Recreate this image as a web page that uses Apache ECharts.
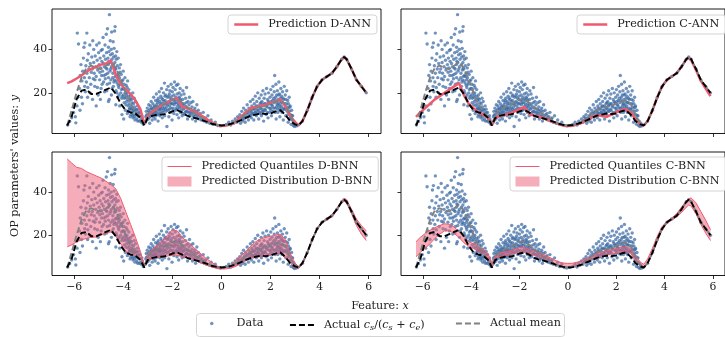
<!DOCTYPE html>
<html><head><meta charset="utf-8">
<script src="https://cdn.jsdelivr.net/npm/echarts@6/dist/echarts.min.js"></script>
<style>html,body{margin:0;padding:0;background:#fff}#c{width:725px;height:337px}</style>
</head><body><div id="c"></div>
<script>
// ---------- data ----------
const X = [-6.28,-6.1,-5.9,-5.7,-5.5,-5.3,-5.1,-4.9,-4.7,-4.5,-4.3,-4.1,-3.9,-3.7,-3.5,-3.3,-3.14,
  -3.0,-2.8,-2.6,-2.4,-2.2,-2.0,-1.8,-1.6,-1.4,-1.2,-1.0,-0.8,-0.6,-0.4,-0.2,0,
  0.2,0.4,0.6,0.8,1.0,1.2,1.4,1.6,1.8,2.0,2.2,2.4,2.6,2.8,3.0,3.14,
  3.3,3.5,3.7,3.9,4.1,4.3,4.5,4.7,4.9,5.0,5.1,5.3,5.5,5.7,5.9];
const actualRatio = [5,9,17,21,21.5,19.5,19.5,20.5,21.5,22.5,19.5,15,12,11,10.5,8.5,5,
  8.5,9.5,10,10,10.5,11.5,12,11,9.5,8.7,8.2,7.5,6.8,5.8,5.3,5,
  5.2,5.8,6.5,7.5,8.5,9.5,10,10.5,10.3,10.5,11.5,12,10,7,5.5,5,
  7,12,18,23,26,27.5,29,32,35.5,36.5,35.5,31,26,23,20];
const actualMean = [5,12,20,27,31.5,32.5,31.5,31,32.5,34,31.5,26,20,15,11.5,8.5,5,
  10,12.5,13.5,14.5,15.5,17,17,15.5,13.5,11.5,10,8.5,7,6,5.2,5,
  5.2,5.8,7,8.5,10.5,12,13,13.5,14,15,16,16.5,15,9.5,6,5,
  7,12,18,23,26,27.5,29,32,35.5,36.5,35.5,31,26,23,20];
const predDANN = [24.5,25.3,26.6,28,29.8,31,32,33,33.5,35,28,24,21.5,19.5,16.5,12.5,5.5,
  9.5,11.5,13,14.5,15.5,17,17.5,13.5,13,12,11,9.5,8,6.5,5.3,4.8,
  5,5.6,7,9,11,13,13.5,14,14.5,15.5,16,17,14,9.5,6.5,5,
  7,12,18,23,26,27.5,29,32,35.5,36.5,35.5,31,26,23,20];
const predCANN = [9,11,13,15,17,18.5,20,21.5,23,24.5,19,15,13,11,10,8.5,5,
  8.5,9.5,10,10.5,11.5,12.5,13.5,10.5,9.5,9,8.3,7.5,6.5,5.8,5,4.7,
  4.9,5.5,6.3,7.5,8.8,9.7,9.5,9,10,11,12,12.5,11,8,5.5,5,
  7,12,18,23,26,27.5,29,32,35.5,36,35,30.5,25.5,22,18.5];
const dbnnUpper = [55.4,53.5,51.5,51,49.5,48.5,47.5,46.5,45,43.5,41.5,37,31,25,19,12.5,5.7,
  11,13.5,15.5,17.5,20,22.5,22,19,17,15,13,11,9,7.5,5.8,5,
  5.3,6,8.5,10.5,12.5,15,17,18.3,19,19.5,20,20.5,18,11.5,7,5.5,
  7.5,12.5,18.5,23.5,26.3,28,29.5,32.5,36,37,36.5,32,27.5,24.5,22];
const dbnnLower = [14.6,15.5,16.9,17.8,18.5,19,19.2,20,21,21.5,19.5,16,12.5,11,10.5,9.5,5.5,
  8.5,9.2,9.7,10,10.3,10.8,10.7,10,9.5,8.8,8,7,6.1,5.3,4.6,4.3,
  4.4,4.8,5.6,7,8.4,9.3,9.8,10.1,10.5,10.8,11.2,11.5,9.5,7,5,4.6,
  6.5,11.5,17.5,22.5,25.7,27,28.5,31.5,35,35.8,35,30,24.5,20.5,17.5];
const cbnnUpper = [17,19,20.8,22.3,23.5,24.5,25.3,25,23.8,21.5,19,17,16,14.8,13.5,11.5,6.9,
  10.5,11.8,12.3,12.8,13.5,14.3,14.3,13.5,12.8,12,11,10,8.8,7.7,7.1,6.9,
  7,7.5,8.2,9.4,10.5,11.5,12.2,12.7,13.3,13.8,14.4,14.5,13.8,10.5,7.5,6.5,
  9,14,19.5,24,26.5,28,30,33,36,37,37.3,35,31,27,22.5];
const cbnnLower = [10,12,14,16,18.5,20.5,22,22,20.8,19,16.5,14.8,13.8,12.5,11.3,9.5,5.4,
  9.3,10,10.5,11,11.6,12.2,12.2,11.5,10.8,10,9.3,8.3,7.2,6.2,5.5,5.1,
  5.3,5.8,6.6,7.7,8.8,9.7,10.3,10.8,11.3,11.8,12.2,12.4,11.5,8.2,5.8,5.2,
  6.8,11.5,17,22.5,25.5,27,28.5,30.5,33,34,33.5,30,25,21,17.5];
const dataPoints = [
 [-6.26,5.2],[-6.18,6.8],[-6.1,8.5],[-6.02,11],[-5.93,6.2],[-5.88,14],[-5.82,42.5],[-5.87,47.5],
 [-5.78,22],[-5.75,28],[-5.72,33],[-5.7,18],[-5.68,25.5],[-5.65,30],[-5.62,36],[-5.6,41],[-5.58,27],[-5.56,43],[-5.54,20.5],[-5.52,32.5],[-5.5,25],[-5.48,47.5],
 [-5.48,29],[-5.46,35],[-5.44,22.5],[-5.42,38],[-5.4,31],[-5.38,27],[-5.36,42],[-5.34,33.5],[-5.32,24],[-5.3,29.5],[-5.28,36.5],[-5.26,31],[-5.24,44],[-5.22,26.5],[-5.2,34],[-5.2,40],
 [-5.18,29],[-5.16,23],[-5.14,37],[-5.12,32],[-5.1,27.5],[-5.08,42],[-5.06,35],[-5.04,30.5],[-5.02,19],[-5.0,38.5],[-4.98,33],[-4.98,43],[-4.96,26],[-4.94,36],[-4.92,31.5],[-4.9,22],[-4.9,39.5],[-4.88,28],
 [-4.87,34.5],[-4.85,40],[-4.84,30],[-4.82,45.5],[-4.8,25],[-4.79,37],[-4.77,32],[-4.76,20.5],[-4.74,42],[-4.72,35.5],[-4.71,28.5],[-4.69,47],[-4.68,38.5],[-4.66,31],[-4.65,24],[-4.64,49.5],[-4.62,36],[-4.61,33],[-4.6,27],[-4.6,41],[-4.58,39],[-4.57,17],
 [-4.56,56],[-4.55,34],[-4.54,30],[-4.53,44],[-4.52,37.5],[-4.5,26],[-4.49,40],[-4.48,32],[-4.47,48],[-4.46,35.5],[-4.45,22],[-4.44,38],[-4.42,29],[-4.41,43.5],[-4.4,33],[-4.39,36.5],[-4.38,25],[-4.37,40.5],[-4.36,30.5],[-4.35,48.5],[-4.34,34],[-4.33,50.5],[-4.32,27.5],[-4.31,37],
 [-4.3,31],[-4.29,21],[-4.28,35.5],[-4.27,28],[-4.26,39],[-4.25,24.5],[-4.24,32.5],[-4.22,18],[-4.21,29],[-4.2,36],[-4.19,26],[-4.18,22.5],[-4.16,31.5],[-4.15,27],[-4.14,14],[-4.12,24],[-4.11,33],[-4.1,20],[-4.08,28.5],[-4.06,17.5],[-4.05,25.5],[-4.02,22],
 [-4.0,30],[-3.99,19],[-3.97,24],[-3.96,15.5],[-3.94,21.5],[-3.93,27],[-3.91,12],[-3.9,18],[-3.88,23.5],[-3.86,16],[-3.85,20],[-3.83,10.5],[-3.82,25.5],[-3.8,14],[-3.78,18.5],[-3.77,21.5],[-3.75,12.5],[-3.74,16.5],[-3.72,9],[-3.7,19],
 [-3.68,14],[-3.66,17],[-3.65,11],[-3.63,13],[-3.61,20],[-3.6,8.5],[-3.58,15],[-3.56,11.5],[-3.54,13.5],[-3.52,7.5],[-3.5,16],[-3.48,10],[-3.46,12],[-3.44,8],[-3.42,14],[-3.4,9.5],[-3.37,11],[-3.34,7],[-3.3,9],[-3.26,6.5],[-3.22,8],[-3.18,5.5],
 [-5.95,9],[-5.85,18],[-5.76,12],[-5.66,15],[-5.57,23],[-5.45,18],[-5.35,20],[-5.25,17],[-5.15,26],[-5.05,22.5],[-4.95,29.5],[-4.93,17],[-4.86,24],[-4.81,33.5],[-4.78,28],[-4.73,26.5],[-4.7,31.5],[-4.67,21],[-4.63,29],[-4.59,34.5],
 [-4.55,24.5],[-4.51,31],[-4.48,19],[-4.43,27],[-4.4,23],[-4.36,26],[-4.33,31.5],[-4.29,25.5],[-4.26,20],[-4.23,27.5],[-4.2,23.5],[-4.17,19],[-4.13,29.5],[-4.1,25],[-4.07,21.5],[-4.04,18.5],[-4.01,26],[-3.98,22],[-3.95,17.5],[-3.92,20],
 [-3.89,14.5],[-3.87,19],[-3.84,22.5],[-3.81,17],[-3.79,11.5],[-3.76,15],[-3.73,13],[-3.71,17.5],[-3.69,10],[-3.67,12.5],[-3.64,15.5],[-3.62,9.5],[-3.59,12],[-3.57,10],[-3.55,17.5],[-3.53,9],[-3.49,12.5],[-3.45,10.5],[-3.41,7],[-3.38,12.5],
 [-3.35,9.5],[-3.32,11],[-3.28,7.5],[-3.24,9.5],[-3.2,6.8],[-4.05,10],[-3.98,8],[-4.3,14.5],[-4.6,16],[-5.1,14],
 [-3.1,6.5],[-3.08,9],[-3.06,11.5],[-3.04,7.5],[-3.02,13],[-3.0,10],[-2.98,8],[-2.96,14.5],[-2.94,11],[-2.92,6],[-2.9,12.5],[-2.88,9.5],[-2.86,16],[-2.84,13],[-2.82,7.5],[-2.8,11],
 [-2.79,15],[-2.77,9],[-2.76,18],[-2.74,12],[-2.72,14],[-2.7,8],[-2.68,16.5],[-2.66,11],[-2.65,19.5],[-2.63,13.5],[-2.61,10],[-2.6,15.5],[-2.58,7],[-2.57,17.5],[-2.55,12.5],[-2.53,20.5],[-2.52,14],[-2.51,9.5],[-2.5,16],[-2.5,11.5],
 [-2.48,13],[-2.47,18.5],[-2.45,10.5],[-2.44,22],[-2.42,15],[-2.41,8.5],[-2.39,17],[-2.37,12],[-2.36,20],[-2.34,14.5],[-2.32,24.5],[-2.31,9.5],[-2.29,16.5],[-2.27,19],[-2.26,11.5],[-2.24,13.5],[-2.23,21.5],[-2.22,4.5],[-2.21,15.5],[-2.2,18],
 [-2.18,12],[-2.17,23],[-2.15,16],[-2.14,9],[-2.12,19.5],[-2.11,14],[-2.1,21],[-2.08,17.5],[-2.07,11],[-2.05,24],[-2.04,15],[-2.02,18.5],[-2.01,7.5],[-2.0,20.5],[-1.98,13],[-1.97,22.5],[-1.95,16.5],[-1.94,10.5],[-1.93,19],[-1.92,14.5],[-1.91,25],[-1.9,17],
 [-1.88,21.5],[-1.87,12],[-1.86,18],[-1.84,15.5],[-1.83,23.5],[-1.81,10],[-1.8,19.5],[-1.78,14],[-1.77,24],[-1.75,16.5],[-1.74,8.5],[-1.72,20],[-1.71,13],[-1.7,17.5],[-1.68,22],[-1.67,11],[-1.65,15],[-1.64,19],[-1.62,13.5],[-1.6,9.5],
 [-1.58,17],[-1.57,21],[-1.55,12.5],[-1.53,15],[-1.52,19.5],[-1.5,10],[-1.48,14],[-1.46,17.5],[-1.44,11.5],[-1.42,22.5],[-1.4,13],[-1.38,8],[-1.36,16],[-1.34,11],[-1.32,14.5],[-1.3,18],[-1.28,9.5],[-1.26,12.5],[-1.24,15.5],[-1.22,10.5],
 [-1.2,13.5],[-1.18,8],[-1.16,16],[-1.13,11],[-1.1,9],[-1.08,13],[-1.05,7],[-1.02,11.5],[-1.0,14.5],[-0.97,9.5],[-0.94,12],[-0.9,8],[-0.86,10.5],[-0.82,7.5],
 [-0.78,9],[-0.74,11],[-0.7,7],[-0.65,8.5],[-0.6,6.5],[-0.55,9.5],[-0.48,6],[-0.42,7.5],[-0.35,5.5],[-0.25,6.5],[-0.15,5],[-0.05,4.8],
 [-3.05,9.8],[-2.97,11.8],[-2.93,8.8],[-2.89,14],[-2.85,10.5],[-2.81,12.5],[-2.78,10.2],[-2.75,13.5],[-2.71,11],[-2.69,13],[-2.67,9.5],[-2.64,14.5],[-2.62,12],[-2.59,16.5],[-2.56,10.5],[-2.54,13],[-2.49,15],[-2.46,12.5],[-2.43,17.5],[-2.4,13.5],
 [-2.38,11],[-2.35,16],[-2.33,13],[-2.3,18.5],[-2.28,12.5],[-2.25,15],[-2.19,14.5],[-2.16,18.5],[-2.13,12.5],[-2.09,15.5],[-2.06,13],[-2.03,17],[-1.99,15],[-1.96,12],[-1.89,15.5],[-1.85,13],[-1.82,17],[-1.79,12.5],[-1.76,15],[-1.73,18],
 [-1.69,14],[-1.66,16.5],[-1.63,12],[-1.59,14.5],[-1.56,10.5],[-1.51,13],[-1.47,11],[-1.43,15.5],[-1.39,11.5],[-1.35,13],[-1.31,9.5],[-1.27,11],[-1.21,12],[-1.15,9.5],[-1.11,12],[-1.06,10],[-0.99,8.5],[-0.92,10],[-0.84,9],[-0.76,7.5],[-0.68,8],
 [0.1,5],[0.2,5.5],[0.3,6.5],[0.38,5.2],[0.45,7],[0.5,6],[0.56,8],[0.62,6.5],[0.66,9],[0.7,7.5],[0.75,10],[0.78,6],
 [0.81,8.5],[0.83,11.5],[0.86,7],[0.88,9.5],[0.9,13],[0.92,8],[0.95,10.5],[0.97,6.5],[0.99,12],[1.02,9],[1.05,14.5],[1.07,11],[1.1,7.5],[1.12,13],[1.15,10],[1.18,16],
 [1.2,12],[1.22,8.5],[1.24,14],[1.26,10.5],[1.28,17],[1.3,12.5],[1.32,7.5],[1.34,15],[1.36,11],[1.38,18.5],[1.4,13.5],[1.42,9.5],[1.44,16],[1.46,12],[1.48,20],[1.5,14],[1.52,8],[1.54,17.5],[1.56,11],[1.58,15],
 [1.6,13],[1.62,19],[1.63,9.5],[1.65,16],[1.67,11.5],[1.69,21],[1.7,14.5],[1.72,7],[1.74,17.5],[1.76,12.5],[1.78,19.5],[1.8,15],[1.82,10],[1.84,22],[1.86,13.5],[1.88,17],[1.9,8.5],[1.92,20],[1.94,15.5],[1.96,11],[1.98,18],[2.0,13],
 [2.01,21.5],[2.03,16],[2.04,9.5],[2.06,19],[2.08,14],[2.1,23],[2.11,11.5],[2.13,17.5],[2.15,20.5],[2.17,28],[2.18,13],[2.2,16.5],[2.22,24],[2.23,8],[2.25,19],[2.27,14.5],[2.28,21],[2.3,11],[2.32,17],[2.34,25],[2.35,13.5],[2.37,19.5],[2.38,9],[2.4,16],
 [2.42,22],[2.44,14],[2.45,18.5],[2.47,11],[2.49,20.5],[2.5,15.5],[2.52,7.5],[2.54,17],[2.56,23],[2.58,12.5],[2.6,19],[2.62,9.5],[2.64,15],[2.66,21],[2.68,11.5],[2.7,16.5],[2.72,6.5],[2.74,13],[2.76,18],[2.78,8.5],
 [2.8,14],[2.82,10],[2.84,5.5],[2.86,12],[2.88,7.5],[2.9,9.5],[2.93,5],[2.95,7],[2.98,4.5],[3.02,6],[3.06,4.8],[3.1,5.2],
 [0.72,8.5],[0.85,8],[0.94,9],[1.03,10.5],[1.09,9],[1.14,11.5],[1.19,9.5],[1.23,11],[1.27,13],[1.31,10],[1.35,12.5],[1.39,11],[1.43,14],[1.47,10.5],[1.51,12],[1.55,13.5],[1.59,10.5],[1.61,15.5],[1.64,12.5],[1.68,14],
 [1.71,11.5],[1.75,15],[1.79,12],[1.83,14],[1.87,11],[1.91,16],[1.95,13],[1.99,15],[2.02,12],[2.05,14.5],[2.09,16.5],[2.12,13],[2.16,15.5],[2.19,11],[2.21,18],[2.24,13.5],[2.26,16],[2.29,12.5],[2.31,15],[2.33,19],
 [2.36,14.5],[2.39,12],[2.41,17.5],[2.43,13],[2.46,15.5],[2.48,12],[2.51,17.5],[2.53,13],[2.57,15],[2.61,12.5],[2.63,17],[2.67,13.5],[2.71,10],[2.73,15],[2.77,11.5],[2.79,13.5],[2.83,8],[2.87,9.5]
];
const xTicks = [-6,-4,-2,0,2,4,6];
const yTicks = [20,40];

// ---------- chart ----------
const FONT = 'DejaVu Serif';
const FS = 11.2;
const TXT = '#222';
const RED = '#ef5a6e';
const PINK = 'rgba(236,100,120,0.52)';
const pair = arr => X.map((x, k) => [x, arr[k]]);
const scatterData = dataPoints.concat(X.filter(x => x > 3.14).map(x => [x, actualRatio[X.indexOf(x)]]));
const RATIO = 'Actual cs/(cs+ce)';

const grids = [
  {left: 52, top: 9, width: 329, height: 124.5},
  {left: 401, top: 9, width: 329, height: 124.5},
  {left: 52, top: 152, width: 329, height: 123.5},
  {left: 401, top: 152, width: 329, height: 123.5}
].map(g => Object.assign({show: true, borderColor: '#000', borderWidth: 0.9, backgroundColor: 'transparent'}, g));

const xAxes = grids.map((g, i) => ({
  type: 'value', gridIndex: i, min: -6.9, max: 6.5, position: 'bottom',
  axisLine: {show: false, onZero: false}, splitLine: {show: false},
  axisTick: {show: true, customValues: xTicks, length: 3.5, lineStyle: {color: '#000', width: 0.8}},
  axisLabel: {show: i >= 2, customValues: xTicks, margin: 6, fontFamily: FONT, fontSize: 10.8, color: TXT,
    formatter: v => String(v).replace('-', '\u2212')}
}));
const yAxes = grids.map((g, i) => ({
  type: 'value', gridIndex: i, min: 1.3, max: 58.6, position: 'left',
  axisLine: {show: false, onZero: false}, splitLine: {show: false},
  axisTick: {show: true, customValues: yTicks, length: 3.5, lineStyle: {color: '#000', width: 0.8}},
  axisLabel: {show: i % 2 === 0, customValues: yTicks, margin: 5, fontFamily: FONT, fontSize: 10.8, color: TXT}
}));

function bandSeries(i, name, up, lo) {
  return {type: 'custom', name: name, xAxisIndex: i, yAxisIndex: i,
    data: X.map((x, k) => [x, lo[k], up[k]]), encode: {x: 0, y: [1, 2]},
    itemStyle: {color: PINK}, z: 2, silent: true,
    renderItem: (params, api) => {
      if (params.dataIndex !== 0) return null;
      const top = X.map((x, k) => api.coord([x, up[k]]));
      const bot = X.map((x, k) => api.coord([x, lo[k]])).reverse();
      return {type: 'polygon', shape: {points: top.concat(bot)}, style: {fill: PINK}};
    }};
}

const series = [];
grids.forEach((g, i) => {
  series.push({type: 'scatter', name: 'Data', xAxisIndex: i, yAxisIndex: i, data: scatterData,
    symbolSize: 3.4, itemStyle: {color: '#3a69a4', opacity: 0.72}, z: 1, silent: true});
  if (i < 2) {
    series.push({type: 'line', name: i === 0 ? 'Prediction D-ANN' : 'Prediction C-ANN', xAxisIndex: i, yAxisIndex: i,
      data: pair(i === 0 ? predDANN : predCANN), showSymbol: false, symbol: 'none',
      lineStyle: {color: RED, width: 2.5}, itemStyle: {color: RED}, z: 3});
  } else {
    const up = i === 2 ? dbnnUpper : cbnnUpper;
    const lo = i === 2 ? dbnnLower : cbnnLower;
    const tag = i === 2 ? 'D-BNN' : 'C-BNN';
    series.push(bandSeries(i, 'Predicted Distribution ' + tag, up, lo));
    [up, lo].forEach(arr => series.push({type: 'line', name: 'Predicted Quantiles ' + tag, xAxisIndex: i, yAxisIndex: i,
      data: pair(arr), symbol: 'none', lineStyle: {color: RED, width: 1}, itemStyle: {color: RED}, z: 3}));
  }
  series.push({type: 'line', name: 'Actual mean', xAxisIndex: i, yAxisIndex: i, data: pair(actualMean),
    symbol: 'none', lineStyle: {color: '#808080', width: 1.9, type: [6, 3]}, itemStyle: {color: '#808080'}, z: 4});
  series.push({type: 'line', name: RATIO, xAxisIndex: i, yAxisIndex: i, data: pair(actualRatio),
    symbol: 'none', lineStyle: {color: '#000', width: 1.9, type: [6, 3]}, itemStyle: {color: '#000'}, z: 5});
});

const legText = {fontFamily: FONT, fontSize: FS, color: TXT, padding: [0, 0, 0, 5]};
const hideSym = {opacity: 0};
const legLine = {width: 'inherit'};
const boxLeg = {orient: 'vertical', padding: [4, 6, 4, 5], itemGap: 4, itemWidth: 24, itemHeight: 10,
  backgroundColor: 'rgba(255,255,255,0.85)', borderColor: '#d4d4d4', borderWidth: 1, borderRadius: 3,
  selectedMode: false, textStyle: legText, itemStyle: hideSym, lineStyle: legLine};
const rectItem = name => ({name: name, icon: 'rect', itemStyle: {opacity: 1}});
const legends = [
  Object.assign({}, boxLeg, {left: 228, top: 15, data: ['Prediction D-ANN']}),
  Object.assign({}, boxLeg, {left: 577, top: 15, data: ['Prediction C-ANN']}),
  Object.assign({}, boxLeg, {left: 162, top: 157, data: ['Predicted Quantiles D-BNN', rectItem('Predicted Distribution D-BNN')]}),
  Object.assign({}, boxLeg, {left: 510, top: 157, data: ['Predicted Quantiles C-BNN', rectItem('Predicted Distribution C-BNN')]}),
  {left: 210, top: 318, padding: 0, itemWidth: 3.5, itemHeight: 3.5, selectedMode: false, data: ['Data'],
    textStyle: Object.assign({}, legText, {padding: [0, 0, 0, 18]})},
  {left: 289, top: 318, padding: 0, itemWidth: 24, itemHeight: 10, selectedMode: false, data: [RATIO], itemStyle: hideSym, lineStyle: legLine,
    formatter: () => 'Actual {it|c}{sub|s}/({it|c}{sub|s} + {it|c}{sub|e})',
    textStyle: Object.assign({}, legText, {lineHeight: 14, rich: {
      it: {fontFamily: FONT, fontSize: FS, fontStyle: 'italic', color: TXT, lineHeight: 14},
      sub: {fontFamily: FONT, fontSize: 8, fontStyle: 'italic', color: TXT, lineHeight: 9, verticalAlign: 'bottom'}}})},
  {left: 455, top: 318, padding: 0, itemWidth: 24, itemHeight: 10, selectedMode: false, data: ['Actual mean'], itemStyle: hideSym, lineStyle: legLine, textStyle: legText}
];

const option = {
  animation: false,
  grid: grids, xAxis: xAxes, yAxis: yAxes, series: series, legend: legends,
  graphic: [
    {type: 'rect', shape: {x: 196.5, y: 313.5, width: 368, height: 23, r: 3}, z: -1,
      style: {fill: '#fff', stroke: '#d4d4d4', lineWidth: 1}},
    {type: 'text', x: 380, y: 306, style: {text: 'Feature: {it|x}', fontFamily: FONT, fontSize: FS, fill: TXT,
      align: 'center', verticalAlign: 'middle', rich: {it: {fontFamily: FONT, fontSize: FS, fontStyle: 'italic', fill: TXT}}}},
    {type: 'text', x: 15, y: 166, rotation: Math.PI / 2, style: {text: "OP parameters' values: {it|y}", fontFamily: FONT, fontSize: 11.2, fill: TXT,
      align: 'center', verticalAlign: 'middle', rich: {it: {fontFamily: FONT, fontSize: 11.2, fontStyle: 'italic', fill: TXT}}}}
  ]
};
const chart = echarts.init(document.getElementById('c'), null, {renderer: 'canvas'});
chart.setOption(option);
</script></body></html>
